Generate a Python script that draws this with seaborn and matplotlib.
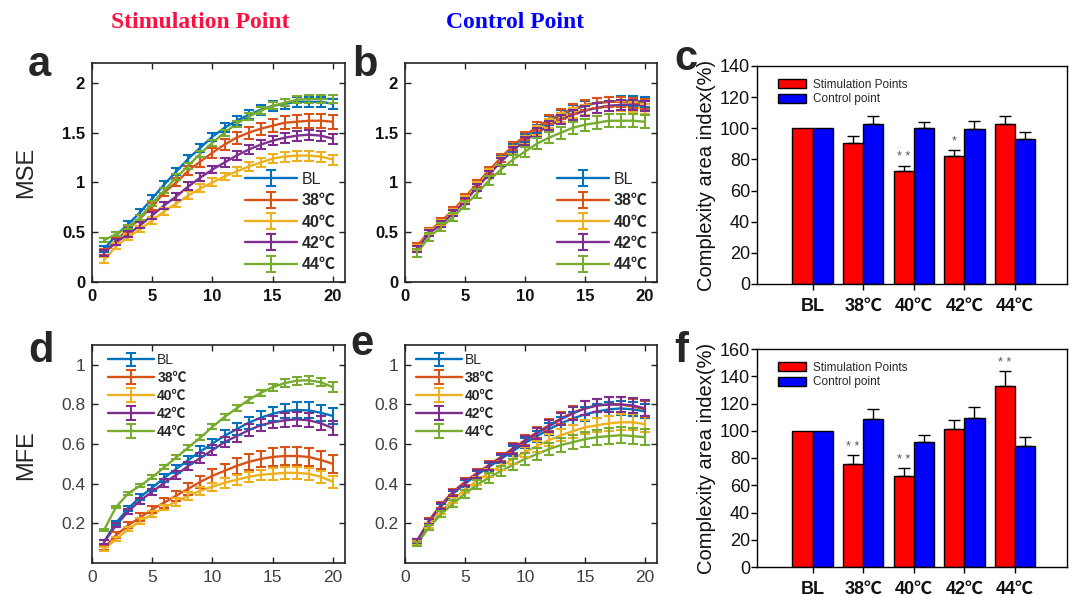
import numpy as np
import pandas as pd
import matplotlib
matplotlib.use("Agg")
import matplotlib.pyplot as plt
import seaborn as sns

# ---------------- data ----------------
scales = list(range(1, 21))
conditions = ["BL", "38℃", "40℃", "42℃", "44℃"]
line_colors = ["#0072BD", "#D95319", "#EDB120", "#7E2F8E", "#77AC30"]

# (a) MSE, stimulation point
mse_stim_bl = [0.33, 0.47, 0.58, 0.70, 0.84, 0.98, 1.11, 1.24, 1.35, 1.46, 1.55, 1.62, 1.68, 1.73, 1.77, 1.79, 1.81, 1.81, 1.81, 1.79]
mse_stim_38 = [0.30, 0.42, 0.53, 0.64, 0.76, 0.90, 1.00, 1.12, 1.21, 1.30, 1.38, 1.45, 1.50, 1.54, 1.57, 1.60, 1.61, 1.62, 1.62, 1.61]
mse_stim_40 = [0.22, 0.36, 0.45, 0.53, 0.62, 0.71, 0.79, 0.87, 0.94, 1.00, 1.06, 1.11, 1.16, 1.20, 1.24, 1.26, 1.27, 1.27, 1.26, 1.23]
mse_stim_42 = [0.29, 0.40, 0.48, 0.57, 0.67, 0.77, 0.86, 0.96, 1.05, 1.13, 1.20, 1.27, 1.33, 1.38, 1.42, 1.45, 1.47, 1.48, 1.47, 1.44]
mse_stim_44 = [0.42, 0.48, 0.55, 0.65, 0.79, 0.92, 1.05, 1.17, 1.29, 1.40, 1.50, 1.59, 1.66, 1.72, 1.77, 1.80, 1.83, 1.84, 1.84, 1.84]
mse_stim_bl_err = [0.03, 0.03, 0.03, 0.03, 0.03, 0.035, 0.035, 0.04, 0.04, 0.04, 0.045, 0.045, 0.045, 0.05, 0.05, 0.05, 0.05, 0.05, 0.05, 0.05]
mse_stim_38_err = [0.03, 0.03, 0.03, 0.035, 0.035, 0.04, 0.04, 0.045, 0.05, 0.05, 0.055, 0.06, 0.06, 0.06, 0.065, 0.065, 0.065, 0.07, 0.07, 0.07]
mse_stim_40_err = [0.03, 0.03, 0.03, 0.03, 0.035, 0.035, 0.035, 0.04, 0.04, 0.04, 0.04, 0.045, 0.045, 0.045, 0.045, 0.05, 0.05, 0.05, 0.05, 0.05]
mse_stim_42_err = [0.03, 0.03, 0.03, 0.03, 0.035, 0.035, 0.035, 0.04, 0.04, 0.04, 0.045, 0.045, 0.045, 0.045, 0.045, 0.05, 0.05, 0.05, 0.05, 0.05]
mse_stim_44_err = [0.02, 0.02, 0.02, 0.025, 0.025, 0.025, 0.03, 0.03, 0.03, 0.03, 0.03, 0.03, 0.035, 0.035, 0.035, 0.035, 0.035, 0.04, 0.04, 0.04]

# (b) MSE, control point
mse_ctrl_bl = [0.35, 0.50, 0.60, 0.71, 0.84, 0.98, 1.11, 1.24, 1.35, 1.45, 1.54, 1.62, 1.68, 1.73, 1.77, 1.80, 1.81, 1.82, 1.82, 1.81]
mse_ctrl_38 = [0.36, 0.51, 0.61, 0.72, 0.85, 0.99, 1.12, 1.25, 1.37, 1.47, 1.56, 1.63, 1.69, 1.74, 1.78, 1.80, 1.81, 1.81, 1.80, 1.79]
mse_ctrl_40 = [0.34, 0.50, 0.59, 0.70, 0.83, 0.97, 1.10, 1.22, 1.33, 1.43, 1.52, 1.59, 1.65, 1.70, 1.73, 1.75, 1.77, 1.77, 1.76, 1.74]
mse_ctrl_42 = [0.33, 0.49, 0.58, 0.69, 0.81, 0.95, 1.08, 1.21, 1.32, 1.42, 1.50, 1.57, 1.63, 1.68, 1.72, 1.75, 1.77, 1.78, 1.78, 1.77]
mse_ctrl_44 = [0.29, 0.45, 0.55, 0.65, 0.77, 0.89, 1.02, 1.13, 1.23, 1.31, 1.39, 1.45, 1.50, 1.55, 1.58, 1.60, 1.62, 1.62, 1.62, 1.61]
mse_ctrl_bl_err = [0.03, 0.03, 0.03, 0.03, 0.03, 0.03, 0.035, 0.035, 0.04, 0.04, 0.04, 0.045, 0.045, 0.045, 0.045, 0.05, 0.05, 0.05, 0.05, 0.05]
mse_ctrl_38_err = [0.03, 0.03, 0.03, 0.03, 0.03, 0.035, 0.035, 0.04, 0.04, 0.04, 0.045, 0.045, 0.05, 0.05, 0.05, 0.05, 0.05, 0.05, 0.05, 0.05]
mse_ctrl_40_err = [0.03, 0.03, 0.03, 0.03, 0.03, 0.035, 0.035, 0.04, 0.04, 0.04, 0.045, 0.045, 0.045, 0.05, 0.05, 0.05, 0.05, 0.05, 0.05, 0.05]
mse_ctrl_42_err = [0.03, 0.03, 0.03, 0.03, 0.03, 0.035, 0.035, 0.04, 0.04, 0.04, 0.045, 0.045, 0.045, 0.05, 0.05, 0.05, 0.05, 0.05, 0.05, 0.05]
mse_ctrl_44_err = [0.04, 0.04, 0.04, 0.04, 0.04, 0.045, 0.045, 0.05, 0.05, 0.05, 0.055, 0.055, 0.06, 0.06, 0.06, 0.065, 0.065, 0.065, 0.065, 0.065]

# (d) MFE, stimulation point
mfe_stim_bl = [0.108, 0.203, 0.275, 0.333, 0.380, 0.430, 0.475, 0.520, 0.563, 0.603, 0.642, 0.675, 0.708, 0.733, 0.753, 0.767, 0.772, 0.770, 0.758, 0.742]
mfe_stim_38 = [0.075, 0.140, 0.190, 0.230, 0.270, 0.305, 0.340, 0.375, 0.410, 0.440, 0.465, 0.490, 0.510, 0.525, 0.535, 0.540, 0.540, 0.535, 0.520, 0.500]
mfe_stim_40 = [0.070, 0.120, 0.170, 0.210, 0.245, 0.280, 0.310, 0.340, 0.365, 0.385, 0.405, 0.420, 0.435, 0.445, 0.450, 0.455, 0.455, 0.450, 0.435, 0.410]
mfe_stim_42 = [0.105, 0.190, 0.260, 0.315, 0.360, 0.405, 0.445, 0.490, 0.530, 0.570, 0.610, 0.640, 0.670, 0.695, 0.710, 0.720, 0.725, 0.720, 0.705, 0.680]
mfe_stim_44 = [0.167, 0.283, 0.350, 0.390, 0.433, 0.483, 0.533, 0.583, 0.633, 0.687, 0.737, 0.780, 0.823, 0.858, 0.887, 0.908, 0.920, 0.922, 0.912, 0.887]
mfe_stim_bl_err = [0.01, 0.01, 0.015, 0.015, 0.015, 0.02, 0.02, 0.02, 0.025, 0.025, 0.03, 0.03, 0.03, 0.035, 0.035, 0.035, 0.04, 0.04, 0.04, 0.04]
mfe_stim_38_err = [0.01, 0.015, 0.015, 0.02, 0.02, 0.025, 0.025, 0.03, 0.03, 0.035, 0.035, 0.04, 0.04, 0.04, 0.045, 0.045, 0.045, 0.045, 0.045, 0.045]
mfe_stim_40_err = [0.01, 0.01, 0.01, 0.015, 0.015, 0.015, 0.02, 0.02, 0.02, 0.02, 0.025, 0.025, 0.025, 0.025, 0.03, 0.03, 0.03, 0.03, 0.03, 0.03]
mfe_stim_42_err = [0.01, 0.01, 0.015, 0.015, 0.015, 0.02, 0.02, 0.02, 0.025, 0.025, 0.025, 0.03, 0.03, 0.03, 0.03, 0.035, 0.035, 0.035, 0.035, 0.035]
mfe_stim_44_err = [0.005, 0.005, 0.008, 0.008, 0.01, 0.01, 0.01, 0.012, 0.012, 0.012, 0.015, 0.015, 0.015, 0.015, 0.018, 0.018, 0.02, 0.02, 0.02, 0.025]

# (e) MFE, control point
mfe_ctrl_bl = [0.110, 0.210, 0.285, 0.350, 0.400, 0.445, 0.485, 0.525, 0.565, 0.605, 0.640, 0.675, 0.705, 0.730, 0.750, 0.765, 0.775, 0.780, 0.775, 0.765]
mfe_ctrl_38 = [0.110, 0.215, 0.295, 0.360, 0.410, 0.455, 0.495, 0.535, 0.580, 0.620, 0.660, 0.695, 0.730, 0.760, 0.780, 0.795, 0.800, 0.800, 0.790, 0.775]
mfe_ctrl_40 = [0.100, 0.190, 0.260, 0.320, 0.370, 0.415, 0.455, 0.490, 0.525, 0.560, 0.590, 0.620, 0.645, 0.665, 0.685, 0.695, 0.705, 0.710, 0.710, 0.700]
mfe_ctrl_42 = [0.110, 0.210, 0.290, 0.355, 0.405, 0.450, 0.490, 0.530, 0.575, 0.615, 0.655, 0.690, 0.725, 0.755, 0.780, 0.795, 0.800, 0.800, 0.795, 0.780]
mfe_ctrl_44 = [0.095, 0.180, 0.245, 0.300, 0.350, 0.395, 0.430, 0.465, 0.495, 0.525, 0.550, 0.575, 0.595, 0.610, 0.625, 0.635, 0.640, 0.645, 0.640, 0.635]
mfe_ctrl_bl_err = [0.01, 0.012, 0.015, 0.015, 0.018, 0.02, 0.02, 0.022, 0.025, 0.025, 0.028, 0.03, 0.03, 0.032, 0.035, 0.035, 0.035, 0.035, 0.035, 0.035]
mfe_ctrl_38_err = [0.01, 0.012, 0.015, 0.015, 0.018, 0.02, 0.02, 0.022, 0.025, 0.025, 0.028, 0.03, 0.03, 0.032, 0.035, 0.035, 0.038, 0.04, 0.04, 0.04]
mfe_ctrl_40_err = [0.01, 0.012, 0.015, 0.015, 0.018, 0.02, 0.02, 0.022, 0.025, 0.025, 0.028, 0.03, 0.03, 0.032, 0.035, 0.035, 0.038, 0.04, 0.04, 0.04]
mfe_ctrl_42_err = [0.01, 0.012, 0.015, 0.015, 0.018, 0.02, 0.02, 0.022, 0.025, 0.025, 0.028, 0.03, 0.03, 0.032, 0.035, 0.035, 0.038, 0.04, 0.04, 0.04]
mfe_ctrl_44_err = [0.01, 0.012, 0.015, 0.018, 0.02, 0.022, 0.025, 0.025, 0.028, 0.03, 0.03, 0.032, 0.035, 0.035, 0.038, 0.038, 0.04, 0.04, 0.04, 0.04]

# (c) / (f) complexity area index
bar_groups = ["BL", "38℃", "40℃", "42℃", "44℃"]
bar_types = ["Stimulation Points", "Control point"]
cai_mse_stim = [100, 90.5, 72.4, 82.4, 102.8]
cai_mse_ctrl = [100, 102.8, 100.0, 99.3, 92.9]
cai_mse_stim_err = [0, 4.7, 3.6, 3.7, 4.9]
cai_mse_ctrl_err = [0, 4.9, 4.0, 5.4, 4.9]
cai_mse_sig = ["", "", "**", "*", ""]
cai_mfe_stim = [100, 75.8, 67.0, 101.5, 132.6]
cai_mfe_ctrl = [100, 108.6, 92.0, 109.4, 89.0]
cai_mfe_stim_err = [0, 6.2, 5.7, 6.6, 11.0]
cai_mfe_ctrl_err = [0, 7.6, 5.1, 8.0, 6.7]
cai_mfe_sig = ["", "**", "**", "", "**"]

# ---------------- style ----------------
sns.set_theme(style="white")
FONT = ["Liberation Sans", "Noto Sans CJK SC", "DejaVu Sans"]
plt.rcParams["font.family"] = FONT
plt.rcParams["axes.unicode_minus"] = False

W, H = 1072, 596
fig = plt.figure(figsize=(W / 100, H / 100), dpi=100)
fig.patch.set_facecolor("white")


def pos(l, r, t, b):
    return [l / W, 1 - b / H, (r - l) / W, (b - t) / H]


def line_panel(rect, series, errors, ylim, yticks, legend_loc, bold_ticks, tick_size,
               leg_size, leg_anchor, lab_space, ytick_fmt=None):
    ax = fig.add_axes(rect)
    rows = []
    for cond, vals in zip(conditions, series):
        for s, v in zip(scales, vals):
            rows.append({"scale": s, "value": v, "condition": cond})
    df = pd.DataFrame(rows)
    sns.lineplot(data=df, x="scale", y="value", hue="condition", hue_order=conditions,
                 palette=line_colors, linewidth=1.7, legend=False, ax=ax, errorbar=None)
    lines = list(ax.lines)[:len(conditions)]
    ebs = []
    for cond, vals, err, col in zip(conditions, series, errors, line_colors):
        eb = ax.errorbar(scales, vals, yerr=err, fmt="none", ecolor=col,
                         elinewidth=1.5, capsize=3.5, capthick=1.5)
        ebs.append(eb)
    ax.set_xlim(0, 21)
    ax.set_ylim(*ylim)
    ax.set_xticks([0, 5, 10, 15, 20])
    ax.set_yticks(yticks)
    if ytick_fmt:
        ax.set_yticklabels([ytick_fmt(v) for v in yticks])
    ax.set_xlabel("")
    ax.set_ylabel("")
    ax.tick_params(direction="in", length=4, width=1, top=True, right=True,
                   left=True, bottom=True, labelsize=tick_size, pad=5,
                   labelcolor="#111111" if bold_ticks else "#404040", color="#222222")
    if bold_ticks:
        for lab in ax.get_xticklabels() + ax.get_yticklabels():
            lab.set_fontweight("bold")
    for sp in ax.spines.values():
        sp.set_visible(True)
        sp.set_color("#222222")
        sp.set_linewidth(1.2)
    handles = [(ln, eb) for ln, eb in zip(lines, ebs)]
    leg = ax.legend(handles, conditions, loc=legend_loc, bbox_to_anchor=leg_anchor,
                    frameon=False, fontsize=leg_size, handlelength=3.3,
                    handletextpad=0.25, labelspacing=lab_space, borderaxespad=0.2)
    for t in leg.get_texts():
        if t.get_text() != "BL":
            t.set_fontweight("bold")
    return ax


def fmt_tick(v):
    return "0" if v == 0 else ("%g" % v)


# a
line_panel(pos(92, 345, 63, 282),
           [mse_stim_bl, mse_stim_38, mse_stim_40, mse_stim_42, mse_stim_44],
           [mse_stim_bl_err, mse_stim_38_err, mse_stim_40_err, mse_stim_42_err, mse_stim_44_err],
           (0, 2.2), [0, 0.5, 1, 1.5, 2], "lower right", True, 12, 11.5, (1.0, 0.0), 0.4, fmt_tick)
# b
line_panel(pos(405, 657, 63, 282),
           [mse_ctrl_bl, mse_ctrl_38, mse_ctrl_40, mse_ctrl_42, mse_ctrl_44],
           [mse_ctrl_bl_err, mse_ctrl_38_err, mse_ctrl_40_err, mse_ctrl_42_err, mse_ctrl_44_err],
           (0, 2.2), [0, 0.5, 1, 1.5, 2], "lower right", True, 12, 11.5, (1.0, 0.0), 0.4, fmt_tick)
# d
line_panel(pos(92, 345, 345, 563),
           [mfe_stim_bl, mfe_stim_38, mfe_stim_40, mfe_stim_42, mfe_stim_44],
           [mfe_stim_bl_err, mfe_stim_38_err, mfe_stim_40_err, mfe_stim_42_err, mfe_stim_44_err],
           (0, 1.1), [0.2, 0.4, 0.6, 0.8, 1.0], "upper left", False, 12.5, 10, (0.03, 1.0), 0.28, fmt_tick)
# e
line_panel(pos(405, 657, 345, 563),
           [mfe_ctrl_bl, mfe_ctrl_38, mfe_ctrl_40, mfe_ctrl_42, mfe_ctrl_44],
           [mfe_ctrl_bl_err, mfe_ctrl_38_err, mfe_ctrl_40_err, mfe_ctrl_42_err, mfe_ctrl_44_err],
           (0, 1.1), [0.2, 0.4, 0.6, 0.8, 1.0], "upper left", False, 12.5, 10, (0.01, 1.0), 0.28, fmt_tick)


def bar_panel(rect, stim, ctrl, stim_err, ctrl_err, sig, ylim, yticks):
    ax = fig.add_axes(rect)
    df = pd.DataFrame({
        "group": bar_groups * 2,
        "type": [bar_types[0]] * len(bar_groups) + [bar_types[1]] * len(bar_groups),
        "value": list(stim) + list(ctrl),
    })
    sns.barplot(data=df, x="group", y="value", hue="type", hue_order=bar_types,
                palette=["#FF0000", "#0000FF"], saturation=1, width=0.8,
                edgecolor="black", linewidth=1.0, errorbar=None, ax=ax)
    for cont, errs in zip(ax.containers, [stim_err, ctrl_err]):
        xs, ys, es = [], [], []
        for bar, e in zip(cont, errs):
            if e > 0:
                xs.append(bar.get_x() + bar.get_width() / 2)
                ys.append(bar.get_height())
                es.append(e)
        ax.errorbar(xs, ys, yerr=[np.zeros(len(es)), es], fmt="none", ecolor="black",
                    elinewidth=1.0, capsize=4, capthick=1.0, zorder=1)
    for bar, e, s in zip(ax.containers[0], stim_err, sig):
        if s:
            ax.text(bar.get_x() + bar.get_width() / 2, bar.get_height() + e + 1.5,
                    " ".join(s), ha="center", va="bottom", fontsize=9, color="#555555")
    ax.set_xlim(-1.1, 5.03)
    ax.set_ylim(*ylim)
    ax.set_yticks(yticks)
    ax.set_xlabel("")
    ax.set_ylabel("Complexity area index(%)", fontsize=14.5, color="#111111", labelpad=3)
    ax.tick_params(axis="y", direction="out", length=4, width=1, left=True,
                   labelsize=13, pad=1, color="black", labelcolor="#111111")
    ax.tick_params(axis="x", direction="out", length=4, width=1, bottom=True,
                   labelsize=13, pad=6, color="black", labelcolor="#111111")
    for lab in ax.get_xticklabels():
        lab.set_fontweight("bold")
    for sp in ax.spines.values():
        sp.set_visible(True)
        sp.set_color("black")
        sp.set_linewidth(1.0)
    h, l = ax.get_legend_handles_labels()
    ax.legend(h, l, loc="upper left", bbox_to_anchor=(0.045, 0.975), frameon=False,
              fontsize=8.5, handlelength=2.4, handleheight=0.9, handletextpad=0.6,
              labelspacing=0.25, borderaxespad=0.2)
    return ax


bar_panel(pos(757, 1067, 66, 284), cai_mse_stim, cai_mse_ctrl, cai_mse_stim_err,
          cai_mse_ctrl_err, cai_mse_sig, (0, 140), list(range(0, 141, 20)))
bar_panel(pos(757, 1067, 349, 567), cai_mfe_stim, cai_mfe_ctrl, cai_mfe_stim_err,
          cai_mfe_ctrl_err, cai_mfe_sig, (0, 160), list(range(0, 161, 20)))

# y labels of line panels
fig.text(26 / W, 1 - 172 / H, "MSE", rotation=90, fontsize=17, ha="center", va="center")
fig.text(26 / W, 1 - 455 / H, "MFE", rotation=90, fontsize=17, ha="center", va="center")

# panel letters
for letter, x, y in [("a", 28, 76), ("b", 352, 76), ("c", 674, 70),
                     ("d", 28, 362), ("e", 350, 355), ("f", 674, 362)]:
    fig.text(x / W, 1 - y / H, letter, fontsize=30, fontweight="bold",
             ha="left", va="baseline")

# column titles
fig.text(200 / W, 1 - 22 / H, "Stimulation Point", fontsize=17, color="#FF1040",
         fontweight="bold", family=["Liberation Serif", "DejaVu Serif"], ha="center", va="center")
fig.text(515 / W, 1 - 22 / H, "Control Point", fontsize=17, color="#0000FF",
         fontweight="bold", family=["Liberation Serif", "DejaVu Serif"], ha="center", va="center")

fig.savefig("out.png", dpi=100, facecolor="white")
